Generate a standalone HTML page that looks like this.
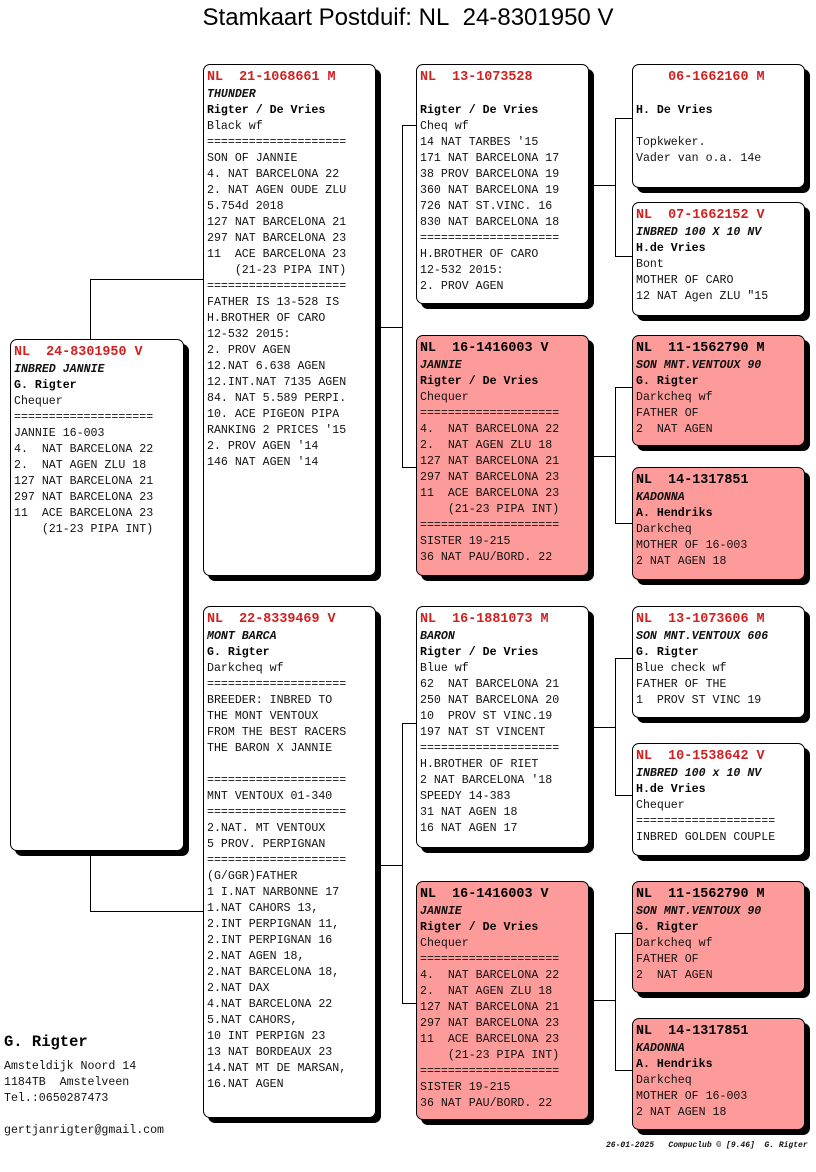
<!DOCTYPE html>
<html><head><meta charset="utf-8"><style>
body{margin:0;background:#fff;}
#c{position:relative;width:816px;height:1172px;overflow:hidden;background:#fff;}
.t{position:absolute;left:0;top:4px;width:816px;text-align:center;font:24px "Liberation Sans",sans-serif;color:#000;}
.b{position:absolute;box-sizing:border-box;border:1px solid #000;border-radius:7px;background:#fff;box-shadow:5px 5px 0 #000;padding:3px 0 0 3px;font:11.6px/16px "Liberation Mono",monospace;color:#111;white-space:pre;}
.p{background:#fd9b9b;}
.r{color:#d02020;font-weight:bold;font-size:13.4px;line-height:19px;}
.hk{color:#000;font-weight:bold;font-size:13.4px;line-height:19px;}
.k{color:#000;font-weight:bold;}
.i{font-weight:bold;font-style:italic;}
.h{position:absolute;height:1px;background:#000;}
.v{position:absolute;width:1px;background:#000;}
.f{position:absolute;font:11.6px/16px "Liberation Mono",monospace;white-space:pre;color:#111;}
</style></head><body><div id="c">
<div class="t">Stamkaart Postduif: NL&nbsp; 24-8301950 V</div>

<div class="h" style="left:90px;top:279px;width:113px"></div>
<div class="v" style="left:90px;top:279px;height:60px"></div>
<div class="h" style="left:90px;top:911px;width:113px"></div>
<div class="v" style="left:90px;top:851px;height:60px"></div>

<div class="h" style="left:376px;top:327px;width:26px"></div>
<div class="v" style="left:402px;top:125px;height:342px"></div>
<div class="h" style="left:402px;top:125px;width:14px"></div>
<div class="h" style="left:402px;top:467px;width:14px"></div>
<div class="h" style="left:376px;top:865px;width:26px"></div>
<div class="v" style="left:402px;top:723px;height:280px"></div>
<div class="h" style="left:402px;top:723px;width:14px"></div>
<div class="h" style="left:402px;top:1003px;width:14px"></div>

<div class="h" style="left:589px;top:185px;width:26px"></div>
<div class="v" style="left:615px;top:118px;height:138px"></div>
<div class="h" style="left:615px;top:118px;width:17px"></div>
<div class="h" style="left:615px;top:256px;width:17px"></div>
<div class="h" style="left:589px;top:456px;width:26px"></div>
<div class="v" style="left:615px;top:387px;height:136px"></div>
<div class="h" style="left:615px;top:387px;width:17px"></div>
<div class="h" style="left:615px;top:523px;width:17px"></div>
<div class="h" style="left:589px;top:727px;width:26px"></div>
<div class="v" style="left:615px;top:658px;height:137px"></div>
<div class="h" style="left:615px;top:658px;width:17px"></div>
<div class="h" style="left:615px;top:795px;width:17px"></div>
<div class="h" style="left:589px;top:1000px;width:26px"></div>
<div class="v" style="left:615px;top:933px;height:137px"></div>
<div class="h" style="left:615px;top:933px;width:17px"></div>
<div class="h" style="left:615px;top:1070px;width:17px"></div>

<div class="b" style="left:10px;top:339px;width:174px;height:512px"><span class="r">NL  24-8301950 V</span>
<span class="i">INBRED JANNIE</span>
<span class="k">G. Rigter</span>
Chequer
====================
JANNIE 16-003
4.  NAT BARCELONA 22
2.  NAT AGEN ZLU 18
127 NAT BARCELONA 21
297 NAT BARCELONA 23
11  ACE BARCELONA 23
    (21-23 PIPA INT)</div>

<div class="b" style="left:203px;top:64px;width:173px;height:512px"><span class="r">NL  21-1068661 M</span>
<span class="i">THUNDER</span>
<span class="k">Rigter / De Vries</span>
Black wf
====================
SON OF JANNIE
4. NAT BARCELONA 22
2. NAT AGEN OUDE ZLU
5.754d 2018
127 NAT BARCELONA 21
297 NAT BARCELONA 23
11  ACE BARCELONA 23
    (21-23 PIPA INT)
====================
FATHER IS 13-528 IS
H.BROTHER OF CARO
12-532 2015:
2. PROV AGEN
12.NAT 6.638 AGEN
12.INT.NAT 7135 AGEN
84. NAT 5.589 PERPI.
10. ACE PIGEON PIPA
RANKING 2 PRICES '15
2. PROV AGEN '14
146 NAT AGEN '14</div>

<div class="b" style="left:203px;top:606px;width:173px;height:512px"><span class="r">NL  22-8339469 V</span>
<span class="i">MONT BARCA</span>
<span class="k">G. Rigter</span>
Darkcheq wf
====================
BREEDER: INBRED TO
THE MONT VENTOUX
FROM THE BEST RACERS
THE BARON X JANNIE

====================
MNT VENTOUX 01-340
====================
2.NAT. MT VENTOUX
5 PROV. PERPIGNAN
====================
(G/GGR)FATHER
1 I.NAT NARBONNE 17
1.NAT CAHORS 13,
2.INT PERPIGNAN 11,
2.INT PERPIGNAN 16
2.NAT AGEN 18,
2.NAT BARCELONA 18,
2.NAT DAX
4.NAT BARCELONA 22
5.NAT CAHORS,
10 INT PERPIGN 23
13 NAT BORDEAUX 23
14.NAT MT DE MARSAN,
16.NAT AGEN</div>

<div class="b" style="left:416px;top:64px;width:173px;height:240px"><span class="r">NL  13-1073528</span>

<span class="k">Rigter / De Vries</span>
Cheq wf
14 NAT TARBES '15
171 NAT BARCELONA 17
38 PROV BARCELONA 19
360 NAT BARCELONA 19
726 NAT ST.VINC. 16
830 NAT BARCELONA 18
====================
H.BROTHER OF CARO
12-532 2015:
2. PROV AGEN</div>

<div class="b p" style="left:416px;top:335px;width:173px;height:241px"><span class="hk">NL  16-1416003 V</span>
<span class="i">JANNIE</span>
<span class="k">Rigter / De Vries</span>
Chequer
====================
4.  NAT BARCELONA 22
2.  NAT AGEN ZLU 18
127 NAT BARCELONA 21
297 NAT BARCELONA 23
11  ACE BARCELONA 23
    (21-23 PIPA INT)
====================
SISTER 19-215
36 NAT PAU/BORD. 22</div>

<div class="b" style="left:416px;top:606px;width:173px;height:242px"><span class="r">NL  16-1881073 M</span>
<span class="i">BARON</span>
<span class="k">Rigter / De Vries</span>
Blue wf
62  NAT BARCELONA 21
250 NAT BARCELONA 20
10  PROV ST VINC.19
197 NAT ST VINCENT
====================
H.BROTHER OF RIET
2 NAT BARCELONA '18
SPEEDY 14-383
31 NAT AGEN 18
16 NAT AGEN 17</div>

<div class="b p" style="left:416px;top:881px;width:173px;height:239px"><span class="hk">NL  16-1416003 V</span>
<span class="i">JANNIE</span>
<span class="k">Rigter / De Vries</span>
Chequer
====================
4.  NAT BARCELONA 22
2.  NAT AGEN ZLU 18
127 NAT BARCELONA 21
297 NAT BARCELONA 23
11  ACE BARCELONA 23
    (21-23 PIPA INT)
====================
SISTER 19-215
36 NAT PAU/BORD. 22</div>

<div class="b" style="left:632px;top:64px;width:173px;height:124px"><span class="r">    06-1662160 M</span>

<span class="k">H. De Vries</span>

Topkweker.
Vader van o.a. 14e</div>

<div class="b" style="left:632px;top:202px;width:173px;height:114px"><span class="r">NL  07-1662152 V</span>
<span class="i">INBRED 100 X 10 NV</span>
<span class="k">H.de Vries</span>
Bont
MOTHER OF CARO
12 NAT Agen ZLU "15</div>

<div class="b p" style="left:632px;top:335px;width:173px;height:111px"><span class="hk">NL  11-1562790 M</span>
<span class="i">SON MNT.VENTOUX 90</span>
<span class="k">G. Rigter</span>
Darkcheq wf
FATHER OF
2  NAT AGEN</div>

<div class="b p" style="left:632px;top:467px;width:173px;height:113px"><span class="hk">NL  14-1317851</span>
<span class="i">KADONNA</span>
<span class="k">A. Hendriks</span>
Darkcheq
MOTHER OF 16-003
2 NAT AGEN 18</div>

<div class="b" style="left:632px;top:606px;width:173px;height:112px"><span class="r">NL  13-1073606 M</span>
<span class="i">SON MNT.VENTOUX 606</span>
<span class="k">G. Rigter</span>
Blue check wf
FATHER OF THE
1  PROV ST VINC 19</div>

<div class="b" style="left:632px;top:743px;width:173px;height:113px"><span class="r">NL  10-1538642 V</span>
<span class="i">INBRED 100 x 10 NV</span>
<span class="k">H.de Vries</span>
Chequer
====================
INBRED GOLDEN COUPLE</div>

<div class="b p" style="left:632px;top:881px;width:173px;height:112px"><span class="hk">NL  11-1562790 M</span>
<span class="i">SON MNT.VENTOUX 90</span>
<span class="k">G. Rigter</span>
Darkcheq wf
FATHER OF
2  NAT AGEN</div>

<div class="b p" style="left:632px;top:1018px;width:173px;height:112px"><span class="hk">NL  14-1317851</span>
<span class="i">KADONNA</span>
<span class="k">A. Hendriks</span>
Darkcheq
MOTHER OF 16-003
2 NAT AGEN 18</div>

<div class="f" style="left:4px;top:1034px;font-size:15.5px;font-weight:bold;color:#000">G. Rigter</div>
<div class="f" style="left:4px;top:1059px">Amsteldijk Noord 14
1184TB  Amstelveen
Tel.:0650287473

gertjanrigter@gmail.com</div>
<div class="f" style="left:606px;top:1138px;font-size:8px;font-style:italic;font-weight:bold">26-01-2025   Compuclub © [9.46]  G. Rigter</div>
</div></body></html>
